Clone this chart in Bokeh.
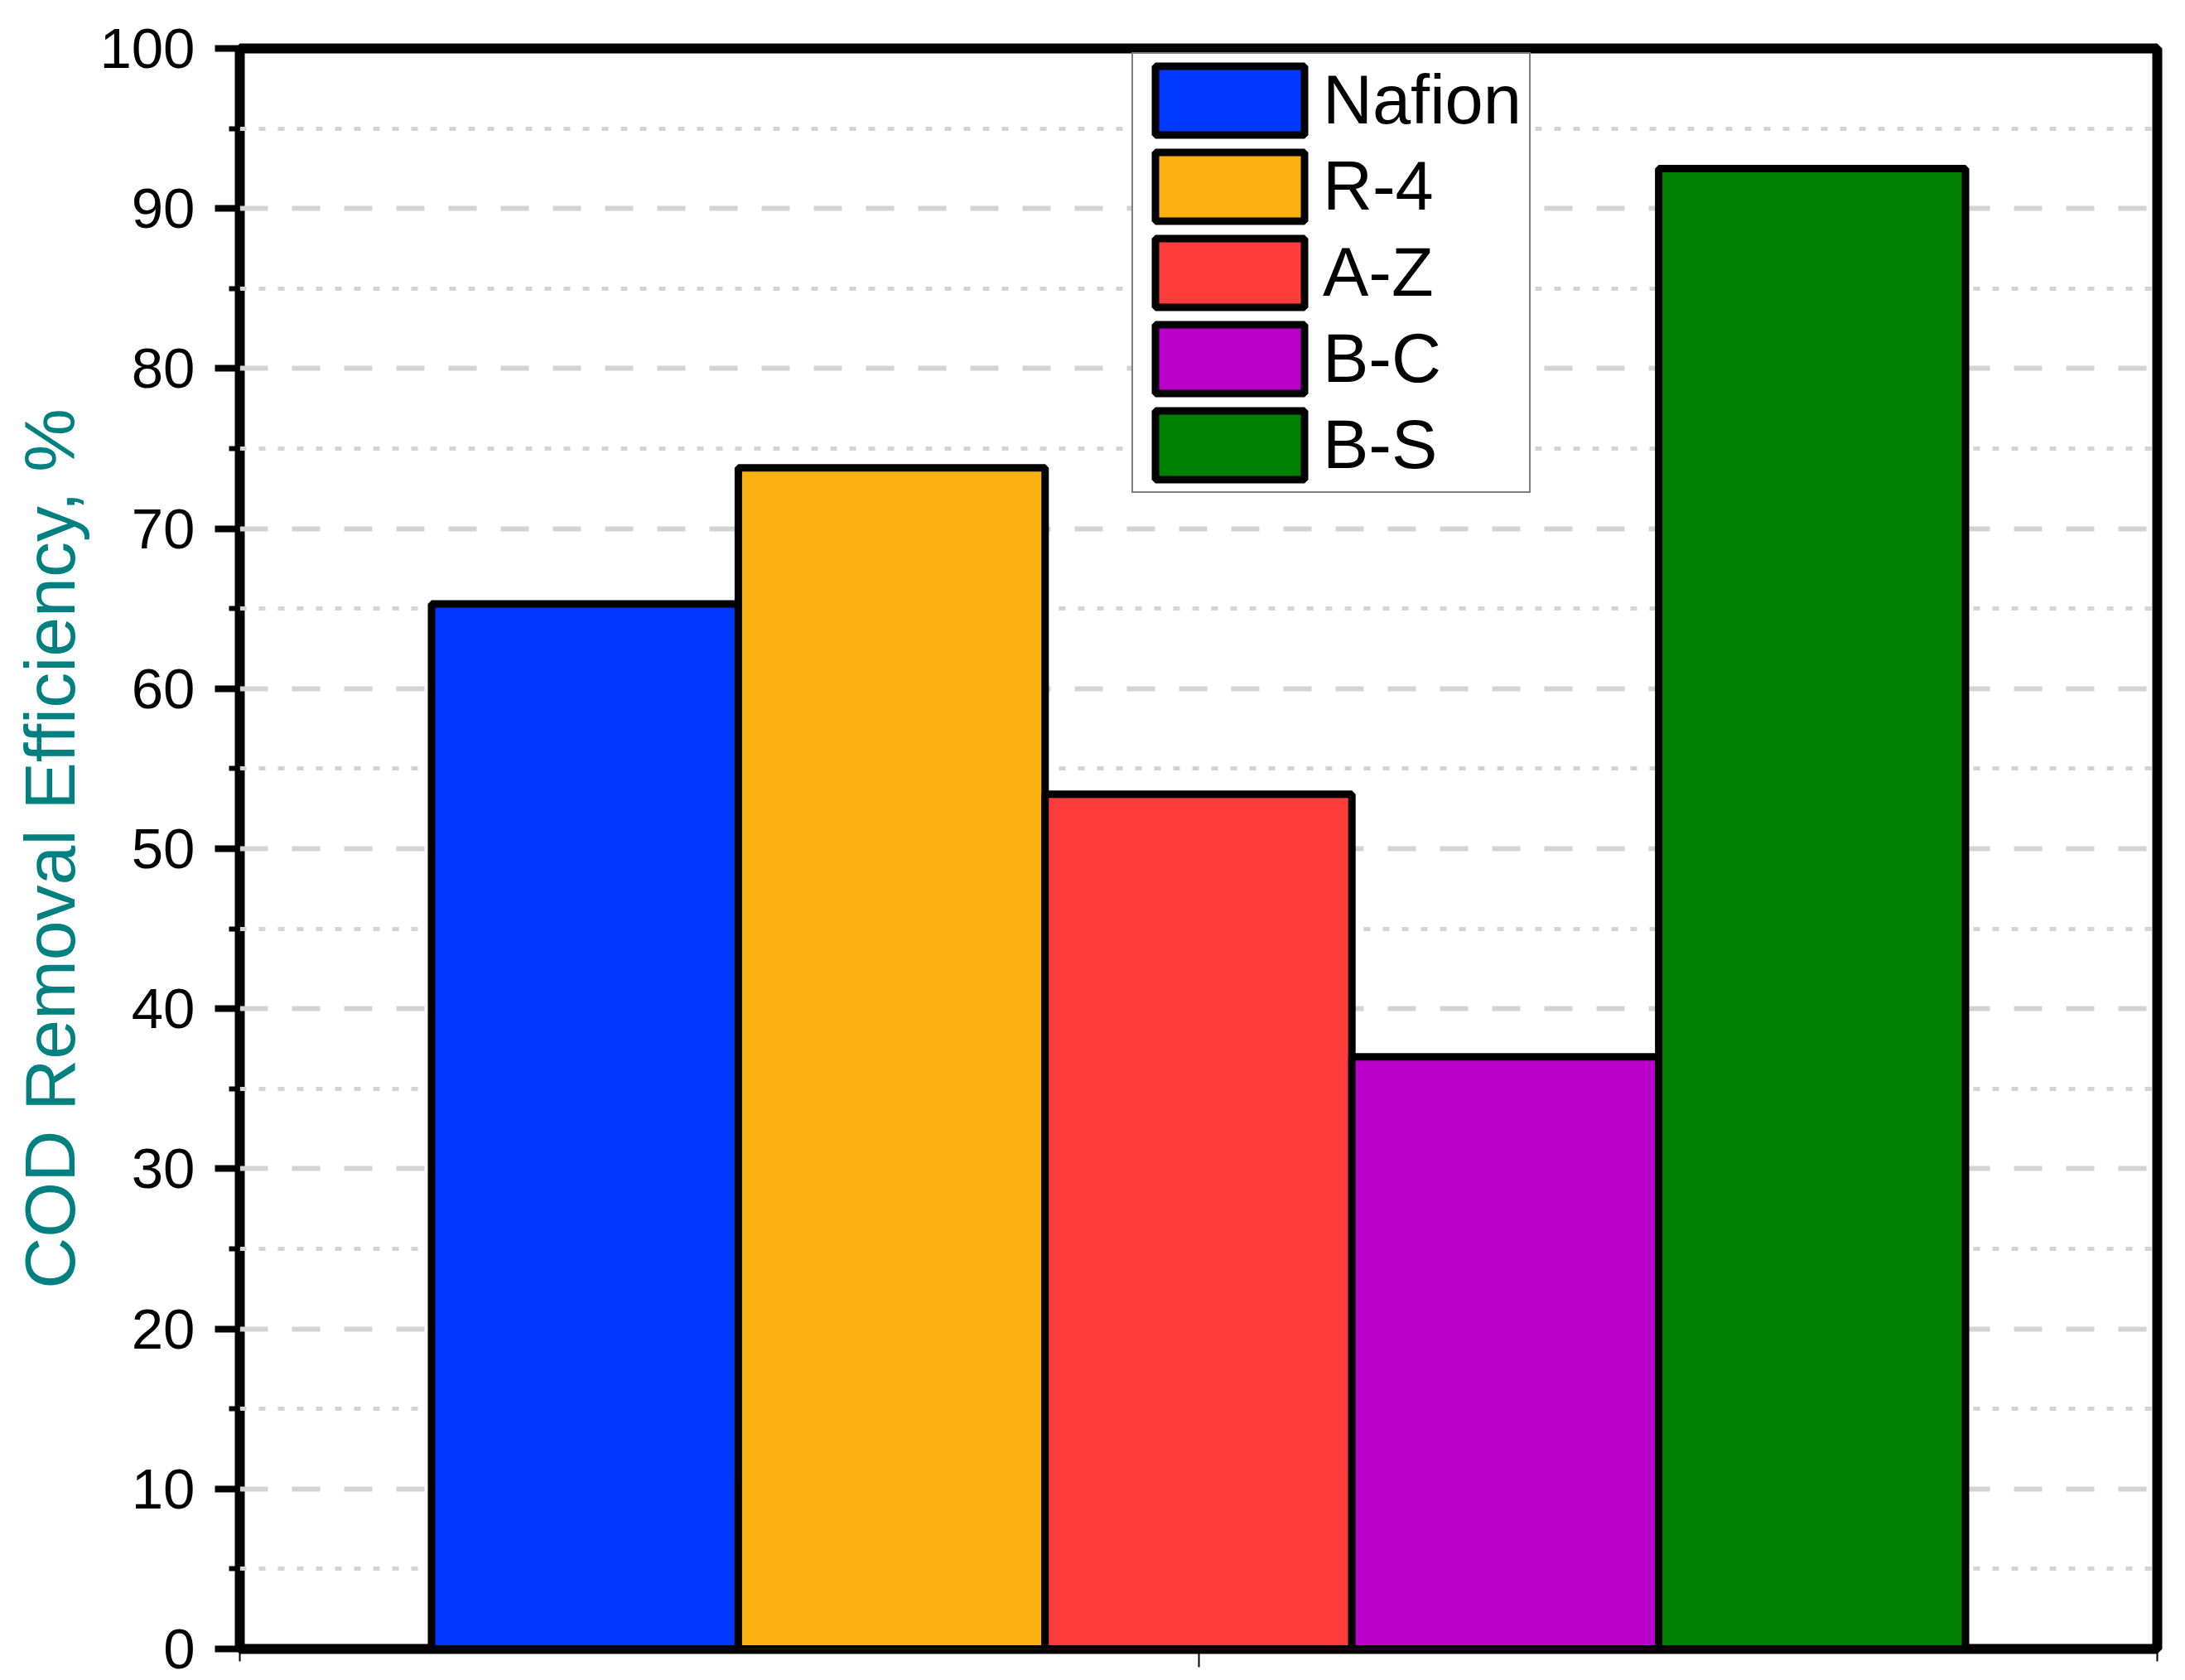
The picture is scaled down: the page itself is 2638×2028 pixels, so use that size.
from bokeh.plotting import figure
from bokeh.models import (ColumnDataSource, Range1d, FixedTicker, Legend, LegendItem)
from bokeh.embed import file_html
from bokeh.resources import INLINE

# ---- data ----
membranes = ["Nafion", "R-4", "A-Z", "B-C", "B-S"]
cod_removal = [65.3, 73.8, 53.4, 37.0, 92.5]
bar_colors = ["#0038FF", "#FAB010", "#FF3C3C", "#BC00CC", "#008000"]
y_major_ticks = [0, 10, 20, 30, 40, 50, 60, 70, 80, 90, 100]
y_minor_ticks = [5, 15, 25, 35, 45, 55, 65, 75, 85, 95]
y_grid_major = [10, 20, 30, 40, 50, 60, 70, 80, 90]

# ---- layout helpers (group of bars centred on x = 1) ----
bar_width = 0.32
center = 1.0
n = len(membranes)
xs = [center + (i - (n - 1) / 2) * bar_width for i in range(n)]

source = ColumnDataSource(dict(x=xs, top=cod_removal, color=bar_colors, name=membranes))

FONT = "Liberation Sans"

p = figure(width=2630, height=2028, output_backend="svg", toolbar_location=None,
           x_range=Range1d(0, 2), y_range=Range1d(0, 100),
           min_border_left=289, min_border_right=26, min_border_top=58, min_border_bottom=38)
p.background_fill_color = "white"
p.border_fill_color = "white"
p.outline_line_color = "black"
p.outline_line_width = 12

r = p.vbar(x="x", top="top", width=bar_width, source=source, fill_color="color",
           line_color="black", line_width=9)

# ---- y axis ----
yax = p.yaxis[0]
yax.ticker = FixedTicker(ticks=y_major_ticks, minor_ticks=y_minor_ticks)
yax.axis_line_color = None
yax.major_tick_line_color = "black"
yax.major_tick_line_width = 8
yax.major_tick_out = 30
yax.major_tick_in = 0
yax.minor_tick_line_color = "black"
yax.minor_tick_line_width = 6
yax.minor_tick_out = 13
yax.minor_tick_in = 0
yax.major_label_text_font = FONT
yax.major_label_text_font_size = "69px"
yax.major_label_text_line_height = 1.0
yax.major_label_text_color = "black"
yax.major_label_standoff = 24
yax.axis_label = "COD Removal Efficiency, %"
yax.axis_label_text_font = FONT
yax.axis_label_text_font_size = "86px"
yax.axis_label_text_font_style = "normal"
yax.axis_label_text_color = "#008080"
yax.axis_label_standoff = 9

# ---- x axis ----
xax = p.xaxis[0]
xax.ticker = FixedTicker(ticks=[1], minor_ticks=[0, 2])
xax.axis_line_color = None
xax.major_tick_line_color = "black"
xax.major_tick_line_width = 2
xax.major_tick_out = 22
xax.major_tick_in = 0
xax.minor_tick_line_color = "black"
xax.minor_tick_line_width = 2
xax.minor_tick_out = 15
xax.minor_tick_in = 0
xax.major_label_overrides = {1: ""}

# ---- grids ----
p.xgrid.visible = False
g = p.ygrid[0]
g.ticker = FixedTicker(ticks=y_grid_major, minor_ticks=y_minor_ticks)
g.grid_line_color = "#d3d3d3"
g.grid_line_width = 6
g.grid_line_dash = "34 29"
g.minor_grid_line_color = "#d3d3d3"
g.minor_grid_line_width = 5
g.minor_grid_line_dash = "8 15"

# ---- legend ----
items = [LegendItem(label=m, renderers=[r], index=i) for i, m in enumerate(membranes)]
legend = Legend(items=items, location=(1077, 1395))
legend.glyph_width = 225
legend.glyph_height = 104
legend.spacing = 0
legend.padding = 4
legend.margin = 0
legend.label_standoff = 0
legend.label_width = 245
legend.label_text_font = FONT
legend.label_text_font_size = "83px"
legend.label_text_color = "black"
legend.border_line_color = "black"
legend.border_line_width = 2
legend.background_fill_color = "white"
legend.background_fill_alpha = 1.0
p.add_layout(legend, "center")

open("out.html", "w").write(file_html(p, INLINE))
